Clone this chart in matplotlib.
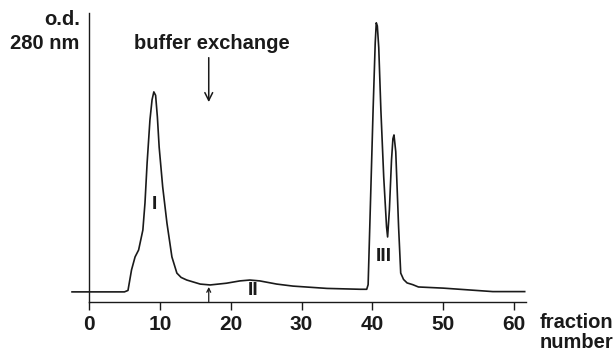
import numpy as np
import matplotlib.pyplot as plt

plt.rcParams['font.family'] = ['Liberation Sans', 'DejaVu Sans']

# elution profile (fraction number, o.d. 280 nm in arbitrary units)
fraction = [-2.4, 5.0, 5.5, 6.0, 6.5, 7.0, 7.6, 7.9, 8.2, 8.6, 8.9, 9.15, 9.4, 9.65,
            9.9, 10.4, 11.0, 11.7, 12.4, 13.0, 13.8, 15.7, 17.1, 19.4, 21.3, 22.7,
            24.1, 26.5, 28.8, 33.6, 38.3, 39.2, 39.4, 39.7, 40.1, 40.4, 40.55, 40.7,
            40.9, 41.2, 41.6, 42.0, 42.15, 42.4, 42.7, 42.9, 43.05, 43.3, 43.7, 44.0,
            44.4, 44.9, 45.7, 46.5, 50.0, 57.0, 61.5]
od = [0.035, 0.035, 0.040, 0.111, 0.156, 0.180, 0.249, 0.343, 0.481, 0.630, 0.700,
      0.727, 0.715, 0.640, 0.536, 0.398, 0.273, 0.156, 0.100, 0.085, 0.076, 0.062,
      0.059, 0.065, 0.073, 0.076, 0.073, 0.062, 0.055, 0.047, 0.044, 0.044, 0.060,
      0.318, 0.664, 0.896, 0.966, 0.955, 0.880, 0.664, 0.433, 0.260, 0.225, 0.318,
      0.491, 0.565, 0.578, 0.520, 0.260, 0.100, 0.078, 0.066, 0.060, 0.052, 0.048,
      0.036, 0.036]

peak_labels = ['I', 'II', 'III']
peak_x = [9.3, 23.1, 41.6]
peak_y = [0.336, 0.039, 0.156]

xticks = [0, 10, 20, 30, 40, 50, 60]
buffer_change = 16.9

ink = '#1a1a1a'

fig = plt.figure(figsize=(6.15, 3.51), dpi=100)
ax = fig.add_axes([0.1102, 0.1396, 0.7487, 0.8234])

ax.plot(fraction, od, color=ink, lw=1.2, clip_on=False)

for lab, px, py in zip(peak_labels, peak_x, peak_y):
    ax.text(px, py, lab, ha='center', va='center', fontsize=14, fontweight='bold', color=ink)

# buffer exchange arrows
ax.annotate('', xy=(buffer_change, 0.682), xytext=(buffer_change, 0.855),
            arrowprops=dict(arrowstyle='->', color=ink, lw=1.1, mutation_scale=14))
ax.text(buffer_change + 0.4, 0.896, 'buffer exchange', ha='center', va='center',
        fontsize=14.5, fontweight='bold', color=ink)
ax.annotate('', xy=(buffer_change, 0.052), xytext=(buffer_change, 0.0),
            arrowprops=dict(arrowstyle='->', color=ink, lw=0.9, mutation_scale=7,
                            shrinkA=0, shrinkB=0))

ax.set_xlim(-3, 62)
ax.set_ylim(0, 1)
ax.spines['left'].set_position(('data', 0))
ax.spines['bottom'].set_bounds(0, 61.7)
ax.spines['top'].set_visible(False)
ax.spines['right'].set_visible(False)
for s in ('left', 'bottom'):
    ax.spines[s].set_color(ink)
    ax.spines[s].set_linewidth(1.0)

ax.set_xticks(xticks)
ax.set_xticklabels([str(t) for t in xticks])
ax.set_yticks([])
ax.tick_params(axis='x', direction='out', length=6, width=1.0, color=ink,
               pad=3, labelsize=15, labelcolor=ink)
for t in ax.get_xticklabels():
    t.set_fontweight('bold')

ax.text(-1.3, 0.976, 'o.d.', ha='right', va='center', fontsize=14.5,
        fontweight='bold', color=ink, clip_on=False)
ax.text(-1.3, 0.896, '280 nm', ha='right', va='center', fontsize=14.5,
        fontweight='bold', color=ink, clip_on=False)

fig.text(540 / 615, 1 - 323 / 351, 'fraction', ha='left', va='center',
         fontsize=14.5, fontweight='bold', color=ink)
fig.text(540 / 615, 1 - 342 / 351, 'number', ha='left', va='center',
         fontsize=14.5, fontweight='bold', color=ink)

fig.savefig('out.png', dpi=100)
